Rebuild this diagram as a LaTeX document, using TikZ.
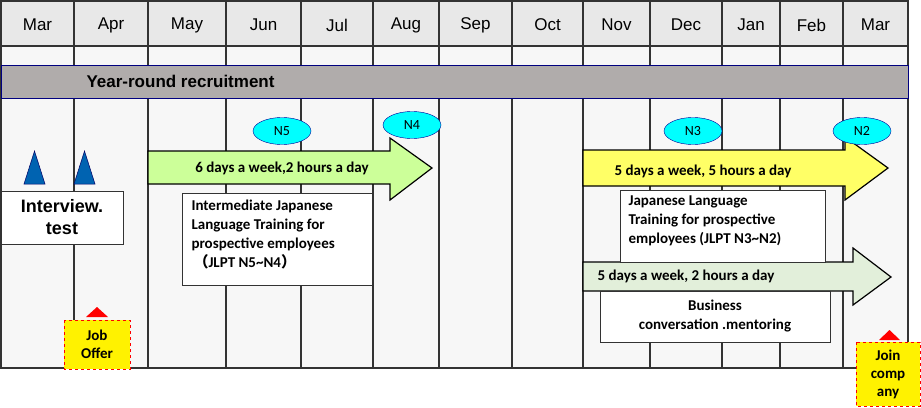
\documentclass[tikz,border=0pt]{standalone}
\usepackage{fontspec}
\setmainfont{Carlito}
\newfontfamily\gothic{Liberation Sans}
\newfontfamily\cjk{Noto Sans CJK JP}
\usetikzlibrary{shapes.geometric}
\definecolor{hdr}{HTML}{E8E8E8}
\definecolor{bodyc}{HTML}{F7F7F7}
\definecolor{band}{HTML}{B0ACAB}
\definecolor{lgreen}{HTML}{CCFF99}
\definecolor{pgreen}{HTML}{E2EFDA}
\definecolor{yel}{HTML}{FFFF66}
\definecolor{tri}{HTML}{0063B1}
\definecolor{cy}{HTML}{00FFFF}
\tikzset{
  grid/.style={draw=black!80, line width=1.2pt},
  txtbox/.style={draw=black!80, fill=white, line width=1pt},
  lvl/.style={ellipse, draw=blue!60!black, fill=cy, minimum width=58pt, minimum height=27pt, inner sep=0pt, font=\fontsize{14}{14}\selectfont},
  arr/.style={draw=black, line width=1.2pt},
  btxt/.style={font=\bfseries\fontsize{15}{19}\selectfont, align=left},
  flagbox/.style={draw=red, dashed, fill=yellow, line width=0.8pt}
}
\begin{document}
\begin{tikzpicture}[x=1pt,y=-1pt]
\useasboundingbox (0,0) rectangle (921,407);
\fill[white] (0,0) rectangle (921,407);
% header and body
\fill[hdr] (1,1) rectangle (908,46);
\fill[bodyc] (1,46) rectangle (908,368);
\foreach \x in {74,148,226,301,373,439,512,583,650,722,780,843}{
  \draw[grid] (\x,1) -- (\x,368);
}
\draw[grid] (1,1) rectangle (908,368);
\draw[grid] (1,46) -- (908,46);
% months
\foreach \x/\m [count=\i] in {37.5/Mar,111/Apr,187/May,263.5/Jun,337/Jul,406/Aug,475.5/Sep,547.5/Oct,616.5/Nov,686/Dec,751/Jan,811.5/Feb,875.5/Mar}{
  \node[font=\gothic\fontsize{17}{17}\selectfont] (m\i) at (\x,25) {\m};
}
% band
\node[draw=blue!50!black, fill=band, line width=0.8pt, minimum width=907pt, minimum height=33pt, inner sep=0pt, anchor=north west] (band) at (1,65) {};
\node[font=\gothic\bfseries\fontsize{17}{17}\selectfont, anchor=west] (bandt) at (83,81) {Year-round recruitment};
% arrows
\draw[arr, fill=lgreen] (148,151) -- (390,151) -- (390,138) -- (432,168) -- (390,200) -- (390,184) -- (148,184) -- cycle;
\node[btxt] (a1) at (282,168) {6 days a week,2 hours a day};
\draw[arr, fill=yel] (583,150) -- (845,150) -- (845,137) -- (888,168) -- (845,200) -- (845,186) -- (583,186) -- cycle;
\node[btxt] (a2) at (703,171) {5 days a week, 5 hours a day};
\draw[arr, fill=pgreen] (583,262) -- (853,262) -- (853,248) -- (891,277) -- (853,305) -- (853,291) -- (583,291) -- cycle;
\node[btxt] (a3) at (686,276) {5 days a week, 2 hours a day};
% level ellipses
\node[lvl] (n5) at (282,131) {N5};
\node[lvl] (n4) at (412,125) {N4};
\node[lvl] (n3) at (693,131) {N3};
\node[lvl] (n2) at (862,131) {N2};
% triangles
\fill[tri, draw=blue!40!black, line width=0.5pt] (24,184) -- (34.5,151) -- (45,184) -- cycle;
\fill[tri, draw=blue!40!black, line width=0.5pt] (74,184) -- (84.5,151) -- (95,184) -- cycle;
% boxes
\draw[txtbox] (1,191) rectangle (123,244);
\node[font=\gothic\bfseries\fontsize{18}{22}\selectfont, align=center] (iv) at (62,217.5) {Interview.\\test};
\draw[txtbox] (182,193) rectangle (372,285);
\node[btxt, anchor=north west] (b1) at (188,196) {Intermediate Japanese\\Language Training for\\prospective employees\\\hspace*{2pt}{\cjk（}JLPT N5\textasciitilde N4{\cjk）}};
\draw[txtbox] (620,190) rectangle (825,262);
\node[btxt, anchor=north west] (b2) at (625,192) {Japanese Language\\Training for prospective\\employees (JLPT N3\textasciitilde N2)};
\draw[txtbox] (600,291) rectangle (830,342);
\node[btxt, align=center] (b3) at (715,316) {Business\\conversation .mentoring};
% job offer
\fill[red] (86,317) -- (97,307) -- (108,317) -- cycle;
\draw[flagbox] (64,320) rectangle (130,369);
\node[font=\bfseries\fontsize{15}{18}\selectfont, align=center] (jo) at (97,344) {Job\\Offer};
\fill[red] (879,340) -- (889.5,330) -- (900,340) -- cycle;
\draw[flagbox] (856,342) rectangle (920,406);
\node[font=\bfseries\fontsize{15}{18}\selectfont, align=center] (jc) at (888,374) {Join\\comp\\any};
\end{tikzpicture}
\end{document}
